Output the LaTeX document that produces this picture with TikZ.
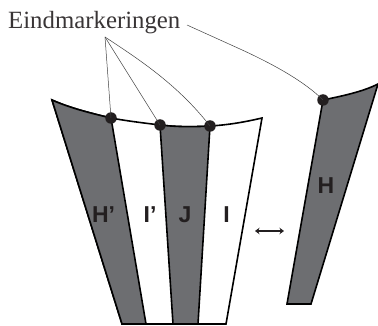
\documentclass[tikz,border=0pt]{standalone}
\usepackage{fontspec}
\usetikzlibrary{arrows.meta}
\setmainfont{Liberation Serif}
\newfontfamily\labfont{Liberation Sans}
\begin{document}
\begin{tikzpicture}[x=1pt,y=-1pt,
  outline/.style={line width=1.6pt,line join=miter},
  band/.style={fill=bandgray,outline},
  leader/.style={line width=0.5pt,draw=black!75},
  dotmark/.style={circle,fill=dotblack,inner sep=0pt,minimum size=11.5pt},
  lab/.style={font=\labfont\bfseries\fontsize{23}{23}\selectfont,text=dotblack,inner sep=0pt}]
\definecolor{bandgray}{HTML}{6D6E71}
\definecolor{dotblack}{HTML}{231F20}
\useasboundingbox (0,0) rectangle (378,326);
% left assembly
\draw[outline,fill=white] (52,100) .. controls (70,108) and (90,113) .. (111,118)
  .. controls (127,121) and (144,123) .. (160,125)
  .. controls (177,127) and (193,127) .. (210,126)
  .. controls (228,125) and (245,122) .. (262,118) -- (226,324) -- (122,324) -- cycle;
\draw[band] (52,100) .. controls (70,108) and (90,113) .. (111,118) -- (146,324) -- (122,324) -- cycle;
\draw[band] (160,125) .. controls (177,127) and (193,127) .. (210,126) -- (198,324) -- (173,324) -- cycle;
% right piece
\draw[band] (323,100) .. controls (342,96) and (362,92) .. (378,84) -- (311,304) -- (287,304) -- cycle;
% marks
\node[dotmark] (d1) at (111,118) {};
\node[dotmark] (d2) at (160,125) {};
\node[dotmark] (d3) at (210,126) {};
\node[dotmark] (d4) at (323,100) {};
% text
\node[anchor=base west,inner sep=0pt,font=\fontsize{24.8}{24.8}\selectfont,text=dotblack!90] (title) at (8,29) {Eindmarkeringen};
\coordinate (fan) at (105,37);
\coordinate (tail) at (187,25);
\draw[leader] (fan) -- (d1.center);
\draw[leader] (fan) -- (d2.center);
\draw[leader] (fan) .. controls (140,60) and (178,85) .. (d3.center);
\draw[leader] (tail) -- (240,49) .. controls (275,65) and (305,82) .. (d4.center);
\node[lab] (hp) at (103.5,215) {H’};
\node[lab] (ip) at (150,215) {I’};
\node[lab] (j) at (185,215) {J};
\node[lab] (i) at (226.5,215) {I};
\node[lab] (h) at (326,186) {H};
\coordinate (a1) at (255,231);
\coordinate (a2) at (284,231);
\draw[line width=2.1pt,draw=dotblack,{Stealth[length=4.5pt,width=6.5pt]}-{Stealth[length=4.5pt,width=6.5pt]}] (a1) -- (a2);
\end{tikzpicture}
\end{document}
